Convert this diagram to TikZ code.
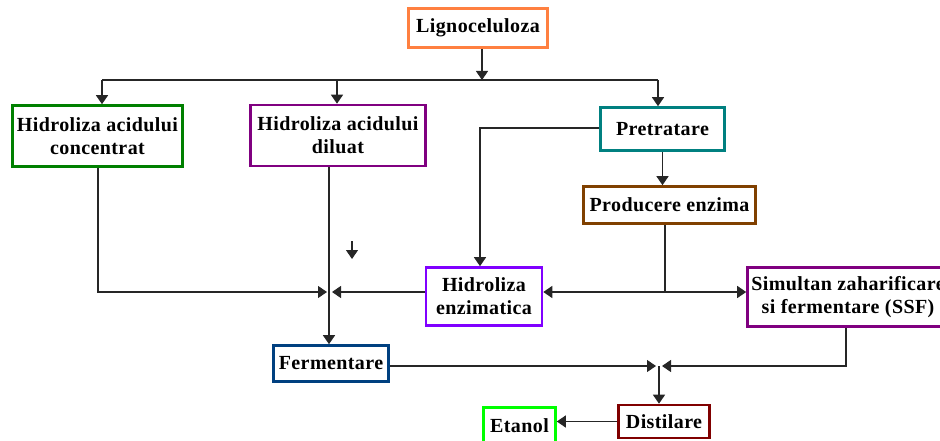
\documentclass[tikz,border=0pt]{standalone}
\usepackage{fontspec}
\setmainfont{Liberation Serif}[LetterSpace=2]
\usetikzlibrary{arrows.meta}

\definecolor{cOrange}{RGB}{255,128,64}
\definecolor{cGreen}{RGB}{0,128,0}
\definecolor{cPurple}{RGB}{128,0,128}
\definecolor{cTeal}{RGB}{0,128,128}
\definecolor{cBrown}{RGB}{128,64,0}
\definecolor{cViolet}{RGB}{128,0,255}
\definecolor{cNavy}{RGB}{0,64,128}
\definecolor{cMaroon}{RGB}{128,0,0}
\definecolor{cLime}{RGB}{0,255,0}

\begin{document}
\begin{tikzpicture}[x=1pt,y=-1pt,
  box/.style={draw, line width=2.6pt, fill=white, align=center, inner sep=0pt,
    font=\bfseries\fontsize{20}{23}\selectfont},
  ln/.style={line width=1.3pt, draw=black!85},
  arr/.style={ln, -{Triangle[length=9pt,width=12pt]}}]
\useasboundingbox (0,0) rectangle (940,441);
\clip (0,0) rectangle (940,441);

% process boxes
\node[box, draw=cOrange, minimum width=139pt, minimum height=39pt] (lig) at (478,28) {Lignoceluloza};
\node[box, draw=cGreen,  minimum width=170pt, minimum height=61pt] (hac) at (97.5,136) {Hidroliza acidului\\concentrat};
\node[box, draw=cPurple, minimum width=175pt, minimum height=61pt] (had) at (338,135.5) {Hidroliza acidului\\diluat};
\node[box, draw=cTeal,   minimum width=124pt, minimum height=43pt] (pre) at (662.5,129) {Pretratare};
\node[box, draw=cBrown,  minimum width=172pt, minimum height=37pt] (pro) at (669.5,205) {Producere enzima};
\node[box, draw=cViolet, minimum width=116pt, minimum height=58pt] (hen) at (484,296.5) {Hidroliza\\enzimatica};
\node[box, draw=cPurple, minimum width=201pt, minimum height=59pt] (ssf) at (848,297) {Simultan zaharificare\\si fermentare (SSF)};
\node[box, draw=cNavy,   minimum width=115pt, minimum height=36pt] (fer) at (331,363.5) {Fermentare};
\node[box, draw=cMaroon, minimum width=91pt,  minimum height=33pt] (dis) at (664,421.5) {Distilare};
\node[box, draw=cLime,   minimum width=72pt,  minimum height=37pt] (eta) at (519.5,426) {Etanol};

% routing points
\coordinate (ligout) at (482,49);
\coordinate (busL) at (102,80);
\coordinate (busM) at (337,80);
\coordinate (busR) at (658,80);
\coordinate (hacx) at (98,292);
\coordinate (hadx) at (329,292);
\coordinate (j1W) at (327,292);
\coordinate (j1E) at (332,292);
\coordinate (s1) at (352,241);
\coordinate (s2) at (352,259);
\coordinate (pretap) at (480,128);
\coordinate (j2) at (665,292);
\coordinate (j3W) at (656,366);
\coordinate (j3E) at (662,366);
\coordinate (j3) at (659,366);
\coordinate (ssfx) at (846,366);

% distribution from Lignoceluloza
\draw[arr] (ligout |- lig.south) -- (ligout |- busL);
\draw[ln] (busL) -- (busR);
\draw[arr] (busL) -- (busL |- hac.north);
\draw[arr] (busM) -- (busM |- had.north);
\draw[arr] (busR) -- (busR |- pre.north);

% acid hydrolysis branches
\draw[arr] (hacx |- hac.south) |- (j1W);
\draw[arr] (hadx |- had.south) -- (hadx |- fer.north);
\draw[arr] (hen.west |- j1E) -- (j1E);
\draw[arr] (s1) -- (s2);

% pretreatment and enzymes
\draw[arr] (pre.west |- pretap) -| (pretap |- hen.north);
\draw[arr] (pre.south) -- (pre.south |- pro.north);
\draw[ln] (j2 |- pro.south) -- (j2);
\draw[arr] (j2) -- (hen.east |- j2);
\draw[arr] (j2) -- (ssf.west |- j2);

% fermentation, distillation
\draw[arr] (fer.east |- j3W) -- (j3W);
\draw[arr] (ssfx |- ssf.south) |- (j3E);
\draw[arr] (j3) -- (j3 |- dis.north);
\draw[arr] (dis.west) -- (eta.east |- dis.west);
\end{tikzpicture}
\end{document}
